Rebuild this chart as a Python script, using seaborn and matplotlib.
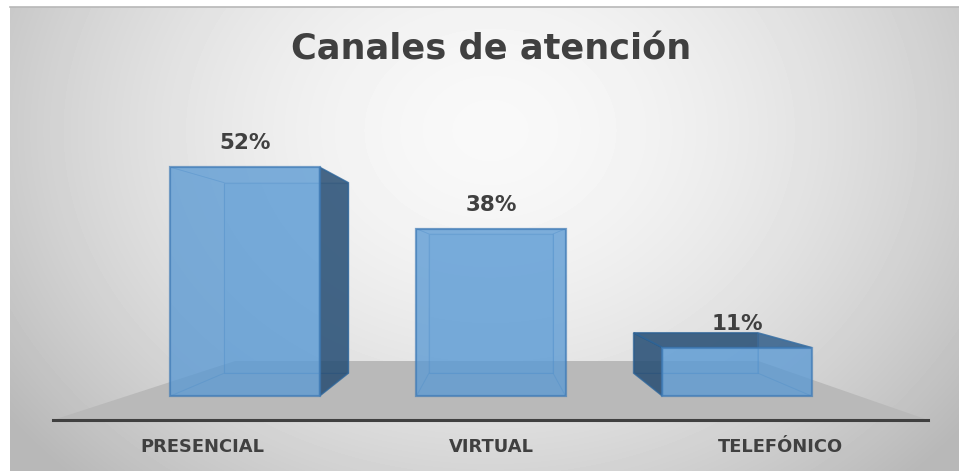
import numpy as np
import pandas as pd
import matplotlib
matplotlib.use("Agg")
import matplotlib.pyplot as plt
from matplotlib.patches import Polygon
import seaborn as sns

canales = ["PRESENCIAL", "VIRTUAL", "TELEFÓNICO"]
porcentajes = [52, 38, 11]
titulo = "Canales de atención"

W, H = 959, 471
sns.set_theme(style="white")
plt.rcParams["font.family"] = ["DejaVu Sans"]
fig = plt.figure(figsize=(W / 100, H / 100), dpi=100, facecolor="white")

def px_rect(x0, y0, x1, y1):
    return [x0 / W, 1 - y1 / H, (x1 - x0) / W, (y1 - y0) / H]

# background panel: soft radial grey gradient
bg = fig.add_axes(px_rect(10, 7, 959, 471), zorder=0)
yy, xx = np.mgrid[7:471, 10:959]
r = np.sqrt(((xx - 490) / 520.0) ** 2 + ((yy - 130) / 420.0) ** 2)
shade = 0.975 - (0.975 - 0.775) * np.clip(r, 0, 1.15) ** 1.7
bg.imshow(shade, cmap="gray", vmin=0, vmax=1, aspect="auto", interpolation="bilinear")
bg.set_xticks([])
bg.set_yticks([])
for name, sp in bg.spines.items():
    sp.set_visible(name == "top")
bg.spines["top"].set_color("#b8b8b8")
bg.spines["top"].set_linewidth(1.2)

# main axes: the bottom spine is the dark floor edge
ax = fig.add_axes(px_rect(53, 7, 928, 420), zorder=1)
ax.patch.set_alpha(0)
df = pd.DataFrame({"canal": canales, "pct": porcentajes})
sns.barplot(data=df, x="canal", y="pct", ax=ax, color="#5B9BD5", saturation=1,
            width=0.606, alpha=0.68, edgecolor="#3F7AB5", linewidth=1.6, zorder=5)

ax.set_xlim((53 - 245) / 246, (928 - 245) / 246)
ax.set_ylim(-(420 - 396) / 4.4, (396 - 7) / 4.4)
ax.set_xlabel("")
ax.set_ylabel("")
ax.set_yticks([])
# category labels spread wider than the bars, as in a perspective floor
ax.set_xticks([1 + (i - 1) * 1.175 for i in range(len(canales))], labels=canales)
ax.tick_params(axis="x", length=0, pad=13, labelcolor="#404040")
for lab in ax.get_xticklabels():
    lab.set_fontsize(12.9)
    lab.set_fontweight("bold")
for name, sp in ax.spines.items():
    sp.set_visible(name == "bottom")
ax.spines["bottom"].set_color("#404040")
ax.spines["bottom"].set_linewidth(2.2)

# floor trapezoid in axes fractions
ax.add_patch(Polygon([(0, 0), (1, 0), (0.806, 59 / 413), (0.208, 59 / 413)],
                     transform=ax.transAxes, facecolor="#b9b9b9",
                     edgecolor="none", zorder=1))

# perspective depth derived from each bar rectangle
vp_x, vp_y = 1.0, 31.0
depth = 0.832

def back(x, y):
    return (vp_x + depth * (x - vp_x), vp_y + depth * (y - vp_y))

EDGE = "#3F7AB5"
for bar in list(ax.containers[0]):
    x0, x1 = bar.get_x(), bar.get_x() + bar.get_width()
    y1 = bar.get_height()
    y0 = 0
    fbl, fbr, ftr, ftl = (x0, y0), (x1, y0), (x1, y1), (x0, y1)
    bbl, bbr, btr, btl = back(*fbl), back(*fbr), back(*ftr), back(*ftl)
    # back wall
    ax.add_patch(Polygon([bbl, bbr, btr, btl], facecolor="#5B9BD5", alpha=0.42,
                         edgecolor=EDGE, lw=0.8, zorder=2))
    faces = [
        ([fbl, fbr, bbr, bbl], False),
        ([ftl, ftr, btr, btl], btl[1] > y1),
        ([fbl, ftl, btl, bbl], bbl[0] < x0),
        ([fbr, ftr, btr, bbr], bbr[0] > x1),
    ]
    for pts, outward in faces:
        if outward:
            ax.add_patch(Polygon(pts, facecolor="#1F4468", alpha=0.76,
                                 edgecolor="#2F6598", lw=1.2, zorder=3))
        else:
            ax.add_patch(Polygon(pts, facecolor="#4A8AC8", alpha=0.28,
                                 edgecolor=EDGE, lw=0.6, zorder=3))

ax.bar_label(ax.containers[0], labels=[f"{v}%" for v in porcentajes], padding=10,
             fontsize=15.5, fontweight="bold", color="#404040", zorder=8)

fig.text(491 / W, 1 - 50 / H, titulo, ha="center", va="center", fontsize=25.3,
         fontweight="bold", color="#404040", zorder=9)

fig.savefig("out.png", dpi=100)
